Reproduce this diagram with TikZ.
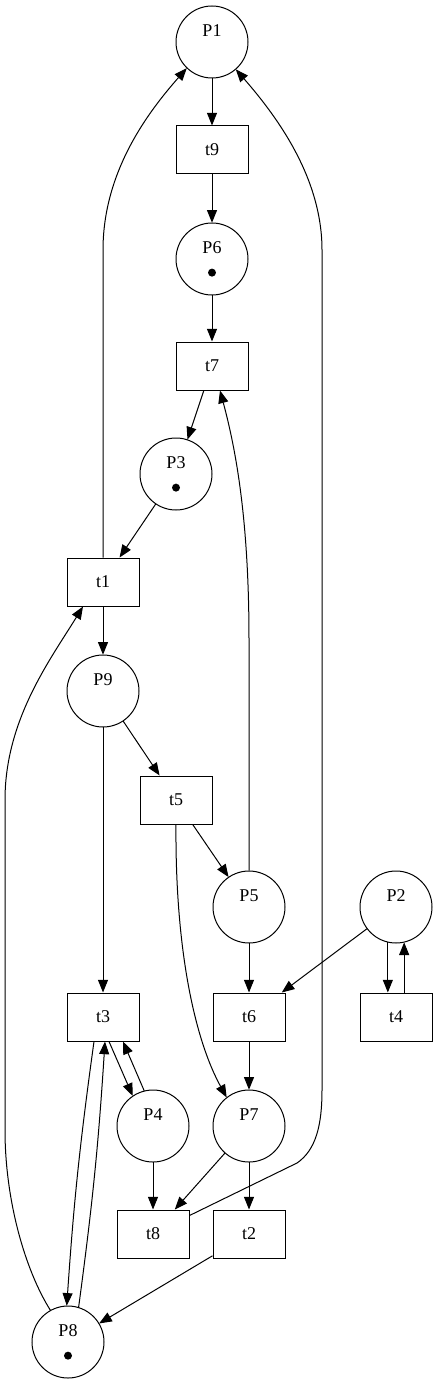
\documentclass[tikz,border=0pt]{standalone}
\usepackage{fontspec}
\setmainfont{Liberation Serif}
\usetikzlibrary{arrows.meta,calc}
\newcommand{\tokendot}{\tikz[baseline=-0.5pt]\fill (0,0) circle (3pt);}
\begin{document}
\begin{tikzpicture}[x=0.75pt,y=-0.75pt,line width=0.75pt,
  place/.style={circle,draw,minimum size=54pt,inner sep=0pt,align=center,
    font=\fontsize{13.5}{15}\selectfont},
  trans/.style={rectangle,draw,minimum width=54pt,minimum height=36pt,inner sep=0pt,
    font=\fontsize{13.5}{15}\selectfont},
  arc/.style={-{Triangle[length=9.5pt,width=7.5pt]}}]
  \useasboundingbox (0,0) rectangle (437,1384);

  \foreach \name/\x/\y in {P1/212/42, P9/103/691, P5/249/907, P2/396/907, P4/153/1126, P7/249/1126}
    \node[place] (\name) at (\x,\y) {\name\\\phantom{\tokendot}};
  \foreach \name/\x/\y in {P6/212/259, P3/176/474, P8/68/1342}
    \node[place] (\name) at (\x,\y) {\name\\\tokendot};
  \foreach \name/\x/\y in {t9/212/150, t7/212/366, t1/103/582, t5/176/800, t3/103/1017,
                           t6/249/1017, t4/396/1017, t8/153/1234, t2/249/1234}
    \node[trans] (\name) at (\x,\y) {\name};

  \draw[arc] (P1) -- (t9);
  \draw[arc] (t9) -- (P6);
  \draw[arc] (P6) -- (t7);
  \draw[arc] (t7) -- (P3);
  \draw[arc] (P3) -- (t1);
  \draw[arc] (t1) -- (P9);
  \draw[arc] (P9) -- (t5);
  \draw[arc] (P9) -- (t3);
  \draw[arc] (t5) -- (P5);
  \draw[arc] (P5) -- (t6);
  \draw[arc] (P2) -- (t6);
  \draw[arc] (t6) -- (P7);
  \draw[arc] (P4) -- (t8);
  \draw[arc] (P7) -- (t8);
  \draw[arc] (P7) -- (t2);
  \draw[arc] (t2) -- (P8);
  \draw[arc] (P2.257) -- (P2.257 |- t4.north);
  \draw[arc] (t4.north -| P2.283) -- (P2.283);
  \draw[arc] ($(t3.south)+(6,0)$) -- (P4.124);
  \draw[arc] (P4.104) -- ($(t3.south)+(20,0)$);
  \draw[arc] ($(t3.south)+(-9,0)$) to[bend right=2] (P8.92);
  \draw[arc] (P8.73) to[bend right=2] ($(t3.south)+(2,0)$);

  % long arcs
  \draw[arc] (t1.north) -- (103,250) .. controls (103,170) and (150,110) .. (P1.226);
  \draw[arc] (P5.north) -- (249,640) .. controls (249,520) and (236,450) .. ($(t7.south)+(8,0)$);
  \draw[arc] (t5.south) .. controls (175,950) and (195,1040) .. (P7.128);
  \draw[arc] ($(t8.north east)+(0,6)$) -- (297,1163) .. controls (316,1150) and (322,1125) .. (322,1090)
    -- (322,250) .. controls (322,180) and (280,120) .. (P1.311);
  \draw[arc] (P8.119) .. controls (25,1270) and (5,1200) .. (5,1130)
    -- (5,800) .. controls (5,720) and (50,660) .. ($(t1.south)+(-20,0)$);
\end{tikzpicture}
\end{document}
